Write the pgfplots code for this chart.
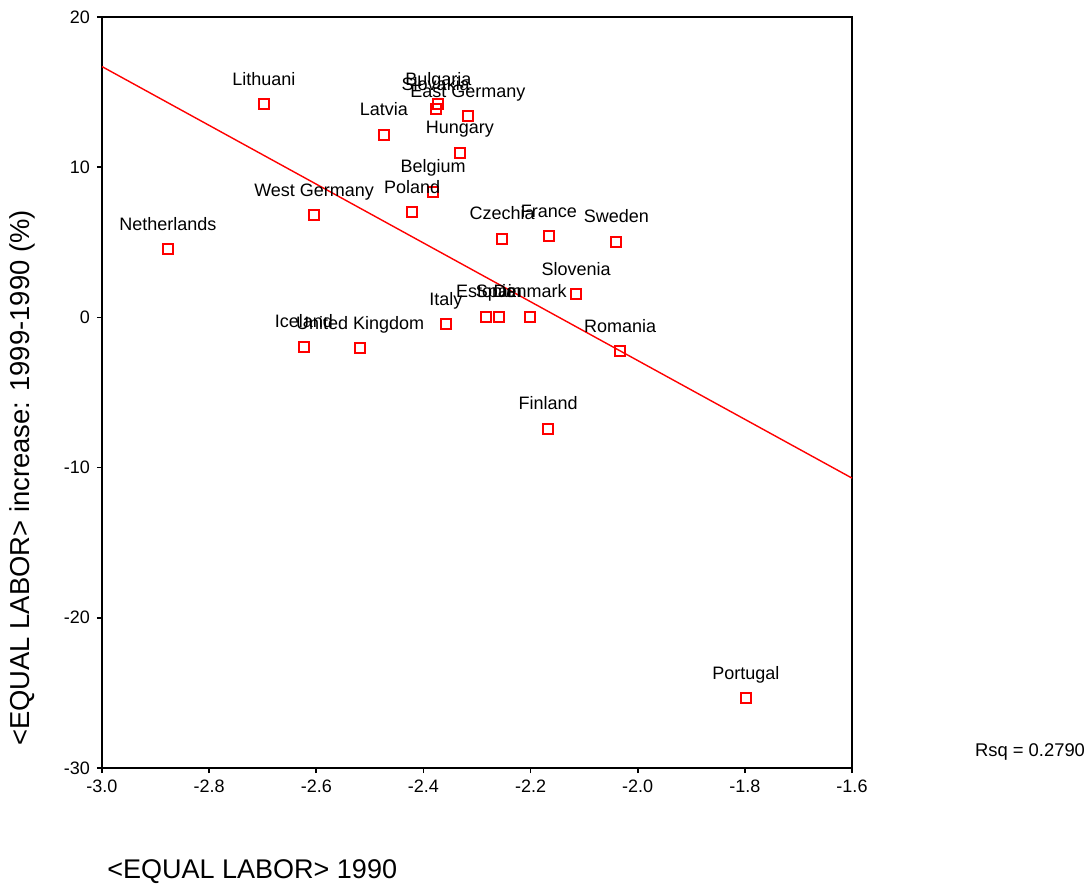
\documentclass[border=0pt]{standalone}
\usepackage{pgfplots}
\pgfplotsset{compat=1.18}
\usepackage{fontspec}
\setmainfont{Liberation Sans}

\pgfplotstableread{
x       y       name
-2.877  4.55    Netherlands
-2.698  14.2    Lithuani
-2.474  12.15   Latvia
-2.372  14.2    Bulgaria
-2.377  13.85   Slovakia
-2.317  13.4    {East Germany}
-2.332  10.95   Hungary
-2.382  8.35    Belgium
-2.421  7.0     Poland
-2.604  6.8     {West Germany}
-2.253  5.25    Czechia
-2.166  5.4     France
-2.040  5.05    Sweden
-2.115  1.55    Slovenia
-2.358  -0.45   Italy
-2.283  0.05    Estonia
-2.259  0.05    Spain
-2.201  0.05    Denmark
-2.033  -2.25   Romania
-2.623  -1.95   Iceland
-2.518  -2.05   {United Kingdom}
-2.167  -7.4    Finland
-1.798  -25.35  Portugal
}\countries

\begin{document}
\begin{tikzpicture}
\path[use as bounding box] (-51pt,-58pt) rectangle (495pt,384pt);
\begin{axis}[
  at={(0pt,0pt)}, anchor=south west,
  scale only axis,
  width=375pt, height=375.5pt,
  xmin=-3.0, xmax=-1.6,
  ymin=-30, ymax=20,
  xtick={-3.0,-2.8,...,-1.6},
  ytick={-30,-20,...,20},
  xticklabel style={/pgf/number format/.cd, fixed, fixed zerofill, precision=1},
  /pgf/number format/assume math mode=true,
  tick align=outside,
  major tick length=2.5pt,
  tick style={black, line width=0.8pt},
  axis line style={line width=0.85pt},
  xtick pos=bottom, ytick pos=left,
  ticklabel style={font=\fontsize{9}{10}\selectfont},
  clip=false,
]
% least-squares fit line
\addplot[red, line width=0.7pt] coordinates {(-3.0,16.7) (-1.6,-10.7)};
\addplot[only marks, mark=square, mark size=2.5pt, draw=red,
  mark options={line width=1pt, draw=red, fill=white},
  point meta=explicit symbolic,
  nodes near coords,
  every node near coord/.append style={anchor=base, yshift=9.5pt,
    inner sep=0pt, text=black, font=\fontsize{9}{10}\selectfont},
] table[x=x, y=y, meta=name] {\countries};
\end{axis}
\node[rotate=90, font=\fontsize{13.7}{15}\selectfont] at (-40pt,145pt)
  {<EQUAL LABOR> increase: 1999-1990 (\%)};
\node[anchor=base west, inner sep=0pt, font=\fontsize{13.5}{15}\selectfont] at (2.5pt,-55pt)
  {<EQUAL LABOR> 1990};
\node[font=\fontsize{9.2}{11}\selectfont] at (464pt,8pt) {Rsq = 0.2790};
\end{tikzpicture}
\end{document}
